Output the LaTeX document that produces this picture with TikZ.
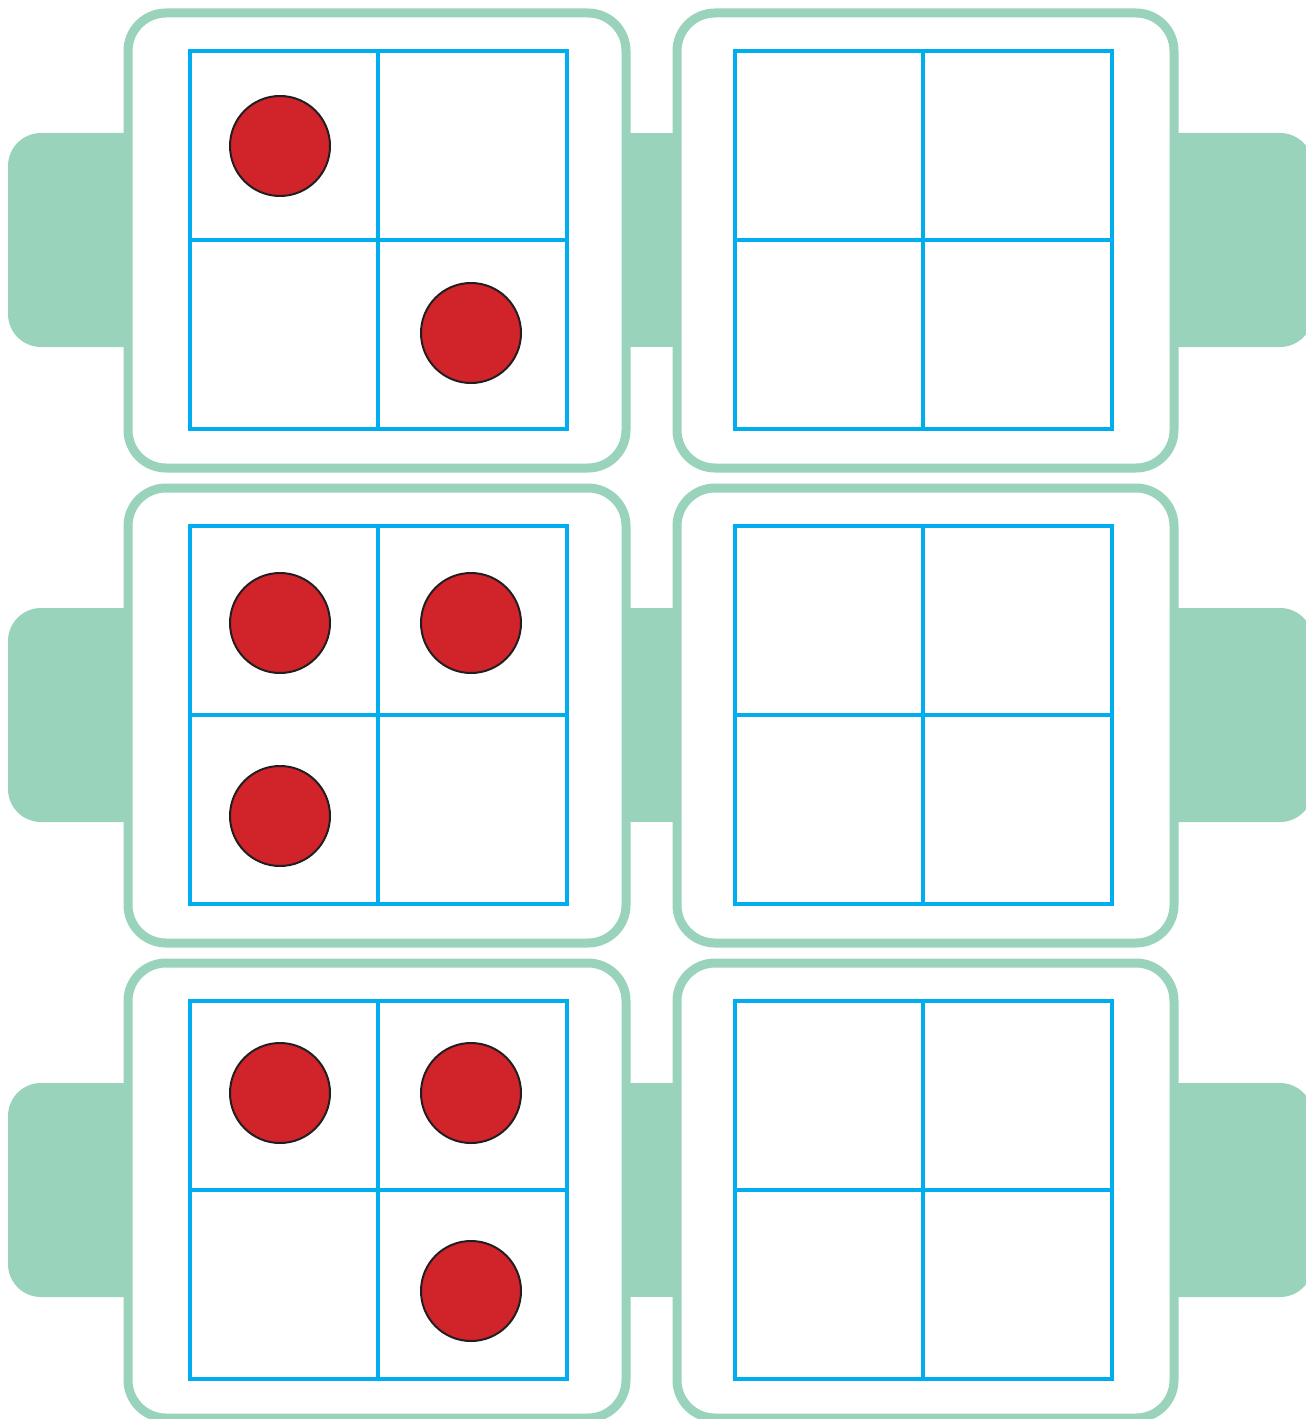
\documentclass[tikz,border=0pt]{standalone}
\definecolor{framegreen}{RGB}{154,211,187}
\definecolor{gridblue}{RGB}{0,174,239}
\definecolor{dotred}{RGB}{208,35,42}
\definecolor{dotline}{RGB}{35,31,32}
\begin{document}
\begin{tikzpicture}[x=0.1mm, y=-0.1mm,
  padtab/.style={fill=framegreen, rounded corners=3.3mm},
  padframe/.style={draw=framegreen, fill=white, line width=0.9mm, rounded corners=3.8mm},
  boxgrid/.style={draw=gridblue, line width=0.4mm},
  chip/.style={fill=dotred, draw=dotline, line width=0.2mm}]
\useasboundingbox (0,0) rectangle (1305,1419);

% top row
\fill[padtab] (8,133) rectangle (200,347);
\fill[framegreen] (600,133) rectangle (700,347);
\fill[padtab] (1100,133) rectangle (1313,347);
\draw[padframe] (128,13) rectangle (626,468);
\draw[padframe] (677,13) rectangle (1174,468);
\draw[boxgrid] (190,51) rectangle (567,429) (378,51) -- (378,429) (190,240) -- (567,240);
\draw[boxgrid] (735,51) rectangle (1112,429) (923,51) -- (923,429) (735,240) -- (1112,240);
\filldraw[chip] (280,146) circle (5mm);
\filldraw[chip] (471,333) circle (5mm);

% middle row
\fill[padtab] (8,608) rectangle (200,822);
\fill[framegreen] (600,608) rectangle (700,822);
\fill[padtab] (1100,608) rectangle (1313,822);
\draw[padframe] (128,488) rectangle (626,943);
\draw[padframe] (677,488) rectangle (1174,943);
\draw[boxgrid] (190,526) rectangle (567,904) (378,526) -- (378,904) (190,715) -- (567,715);
\draw[boxgrid] (735,526) rectangle (1112,904) (923,526) -- (923,904) (735,715) -- (1112,715);
\filldraw[chip] (280,623) circle (5mm);
\filldraw[chip] (471,623) circle (5mm);
\filldraw[chip] (280,816) circle (5mm);

% bottom row
\fill[padtab] (8,1083) rectangle (200,1297);
\fill[framegreen] (600,1083) rectangle (700,1297);
\fill[padtab] (1100,1083) rectangle (1313,1297);
\draw[padframe] (128,963) rectangle (626,1418);
\draw[padframe] (677,963) rectangle (1174,1418);
\draw[boxgrid] (190,1001) rectangle (567,1379) (378,1001) -- (378,1379) (190,1190) -- (567,1190);
\draw[boxgrid] (735,1001) rectangle (1112,1379) (923,1001) -- (923,1379) (735,1190) -- (1112,1190);
\filldraw[chip] (280,1093) circle (5mm);
\filldraw[chip] (471,1093) circle (5mm);
\filldraw[chip] (471,1291) circle (5mm);
\end{tikzpicture}
\end{document}
